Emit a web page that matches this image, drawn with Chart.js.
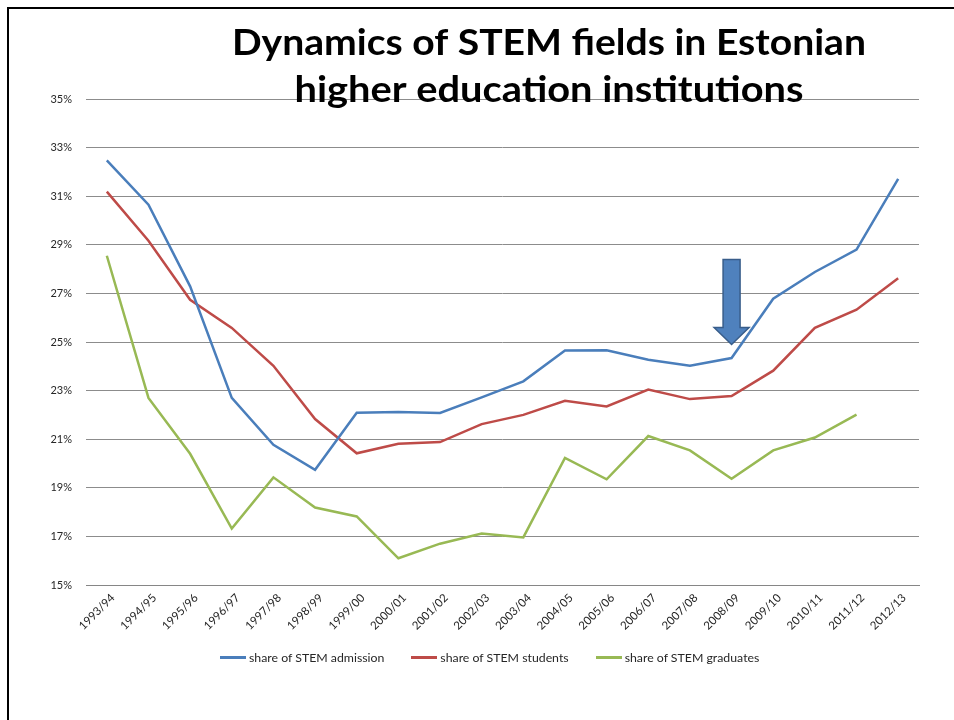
<!DOCTYPE html>
<html>
<head>
<meta charset="utf-8">
<script src="https://cdn.jsdelivr.net/npm/chart.js@4"></script>
<style>
  html, body { margin: 0; padding: 0; background: #fff; overflow: hidden; }
  #wrap { position: relative; width: 954px; height: 720px; }
  #frame { position: absolute; left: 7px; top: 7px; width: 960px; height: 720px;
           border-left: 2px solid #000; border-top: 2px solid #000; }
  #chart { position: absolute; left: 0; top: 0; }
  #legend { position: absolute; left: 220px; top: 650px; display: flex;
            font: 12.3px Lato, sans-serif; color: #262626; }
  #legend .item { display: flex; align-items: center; margin-right: 27px; }
  #legend .swatch { width: 26px; height: 3px; margin-right: 3px; }
</style>
</head>
<body>
<div id="wrap">
  <div id="frame"></div>
  <canvas id="chart" width="954" height="720"></canvas>
  <div id="legend"></div>
</div>
<script>
const titleLines = ['Dynamics of STEM fields in Estonian', 'higher education institutions'];

const years = ['1993/94', '1994/95', '1995/96', '1996/97', '1997/98', '1998/99', '1999/00', '2000/01',
  '2001/02', '2002/03', '2003/04', '2004/05', '2005/06', '2006/07', '2007/08', '2008/09',
  '2009/10', '2010/11', '2011/12', '2012/13'];

const admission = [32.47, 30.65, 27.29, 22.70, 20.77, 19.74, 22.09, 22.12, 22.08, 22.72,
  23.38, 24.65, 24.66, 24.27, 24.02, 24.34, 26.78, 27.88, 28.80, 31.71];
const students = [31.19, 29.17, 26.74, 25.58, 24.02, 21.83, 20.42, 20.81, 20.88, 21.62,
  22.00, 22.58, 22.35, 23.04, 22.65, 22.78, 23.82, 25.58, 26.33, 27.62];
const graduates = [28.55, 22.70, 20.40, 17.32, 19.43, 18.19, 17.82, 16.10, 16.70, 17.12,
  16.96, 20.23, 19.35, 21.13, 20.54, 19.37, 20.54, 21.07, 22.01, null];

const seriesNames = ['share of STEM admission', 'share of STEM students', 'share of STEM graduates'];
const seriesColors = ['#4A7EBB', '#BE4B48', '#98B954'];

// the blue block arrow pointing at 2008/09
const arrowAt = '2008/09';
const arrowFrom = 28.4;
const arrowTo = 24.9;

const titlePlugin = {
  id: 'slideTitle',
  afterDraw(chart) {
    const ctx = chart.ctx;
    const widths = [634, 509];
    const baselines = [55, 102];
    ctx.save();
    ctx.font = 'bold 36px Lato, sans-serif';
    ctx.fillStyle = '#000';
    ctx.textAlign = 'center';
    ctx.textBaseline = 'alphabetic';
    titleLines.forEach((line, i) => {
      const w = ctx.measureText(line).width;
      ctx.save();
      ctx.translate(549, baselines[i]);
      ctx.scale(widths[i] / w, 1);
      ctx.fillText(line, 0, 0);
      ctx.restore();
    });
    ctx.restore();
  }
};

const arrowPlugin = {
  id: 'blockArrow',
  beforeDatasetsDraw(chart) {
    const { ctx, scales: { x, y } } = chart;
    const cx = x.getPixelForValue(years.indexOf(arrowAt));
    const top = y.getPixelForValue(arrowFrom);
    const tip = y.getPixelForValue(arrowTo);
    const shaft = 8.5, head = 17.5, headLen = 17;
    ctx.save();
    ctx.beginPath();
    ctx.moveTo(cx - shaft, top);
    ctx.lineTo(cx + shaft, top);
    ctx.lineTo(cx + shaft, tip - headLen);
    ctx.lineTo(cx + head, tip - headLen);
    ctx.lineTo(cx, tip);
    ctx.lineTo(cx - head, tip - headLen);
    ctx.lineTo(cx - shaft, tip - headLen);
    ctx.closePath();
    ctx.fillStyle = '#4F81BD';
    ctx.fill();
    ctx.lineWidth = 1.5;
    ctx.strokeStyle = '#385D8A';
    ctx.stroke();
    ctx.restore();
  }
};

const dataSets = [admission, students, graduates].map((vals, i) => ({
  label: seriesNames[i],
  data: vals,
  borderColor: seriesColors[i],
  backgroundColor: seriesColors[i],
  borderWidth: 2.5,
  pointRadius: 0,
  tension: 0,
  spanGaps: false
}));

new Chart(document.getElementById('chart'), {
  type: 'line',
  data: { labels: years, datasets: dataSets },
  plugins: [arrowPlugin, titlePlugin],
  options: {
    responsive: false,
    animation: false,
    layout: { padding: { left: 0, right: 35, top: 99, bottom: 75 } },
    plugins: {
      legend: { display: false },
      tooltip: { enabled: false }
    },
    scales: {
      x: {
        offset: true,
        grid: { display: false, drawTicks: false, offset: true },
        border: { display: true, color: '#868686', width: 1 },
        ticks: {
          autoSkip: false,
          minRotation: 45,
          maxRotation: 45,
          padding: 6,
          labelOffset: 6,
          color: '#262626',
          font: { family: 'Lato, sans-serif', size: 11.5 }
        },
        afterFit(scale) { scale.height = 60; }
      },
      y: {
        min: 15,
        max: 35,
        grid: { color: '#8C8C8C', lineWidth: 1, drawTicks: false },
        border: { display: false },
        ticks: {
          stepSize: 2,
          padding: 14,
          color: '#262626',
          font: { family: 'Lato, sans-serif', size: 11 },
          callback: v => v + '%'
        },
        afterFit(scale) { scale.width = 86; }
      }
    }
  }
});

// legend as plain html under the chart
const legendBox = document.getElementById('legend');
seriesNames.forEach((name, i) => {
  const item = document.createElement('div');
  item.className = 'item';
  const sw = document.createElement('span');
  sw.className = 'swatch';
  sw.style.background = seriesColors[i];
  const label = document.createElement('span');
  label.textContent = name;
  item.appendChild(sw);
  item.appendChild(label);
  legendBox.appendChild(item);
});
</script>
</body>
</html>
